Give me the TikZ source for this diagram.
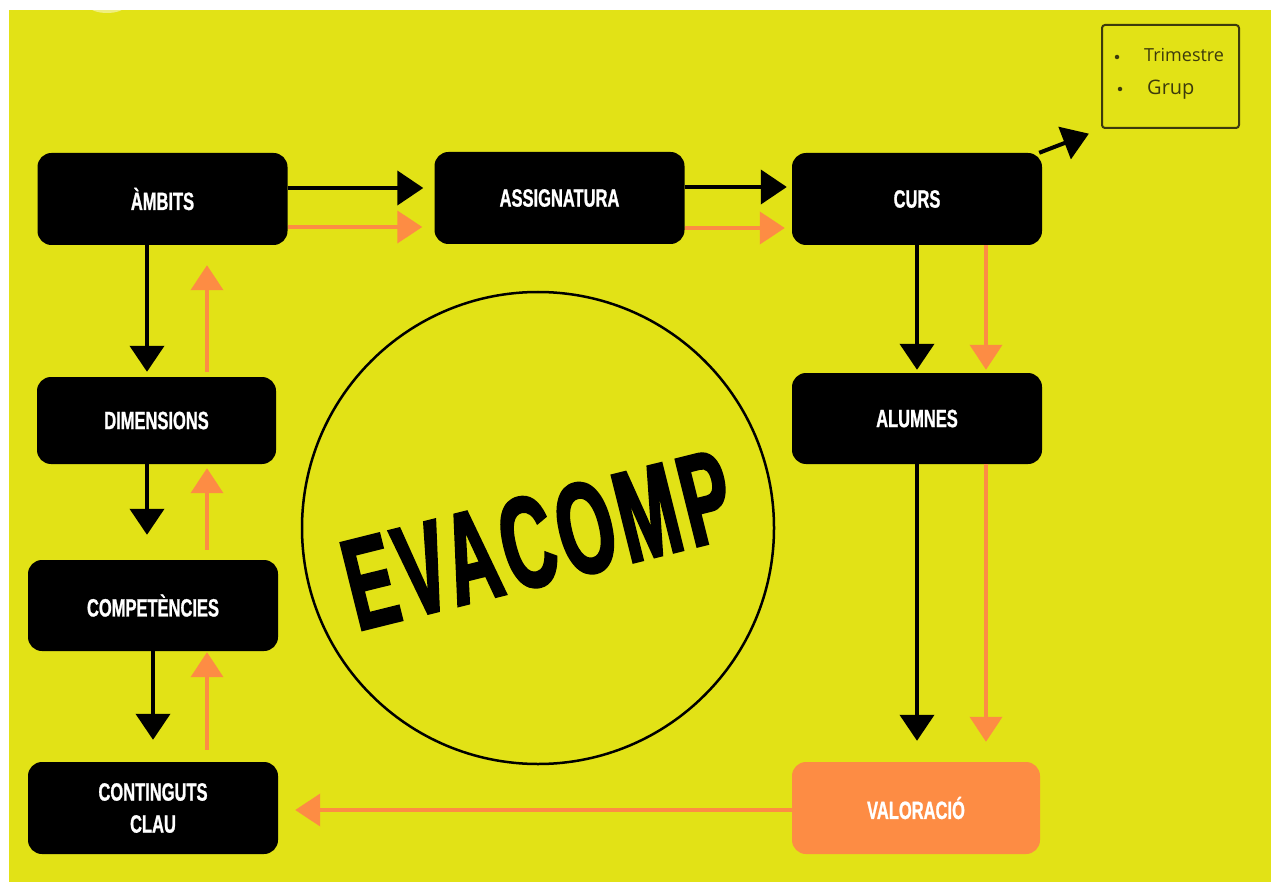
\documentclass[tikz,border=0pt]{standalone}
\usepackage{fontspec}
\usetikzlibrary{arrows.meta}
\newfontfamily\boxfont[FakeStretch=0.66,FakeBold=1]{Liberation Sans}
\newfontfamily\titlefont[FakeStretch=0.56,FakeBold=2,LetterSpace=4]{Liberation Sans}
\newfontfamily\notefont{Open Sans}
\definecolor{bgyellow}{RGB}{226,226,22}
\definecolor{flow}{RGB}{253,140,68}
\definecolor{notecol}{RGB}{60,58,12}
\tikzset{
  stepbox/.style={fill=black, text=white, rounded corners=14pt, inner sep=0pt,
    minimum width=250pt, minimum height=92pt, align=center,
    font=\boxfont\bfseries\fontsize{25}{32}\selectfont},
  endbox/.style={stepbox, fill=flow},
  blk/.style={draw=black, line width=4pt, -{Triangle[length=26pt,width=34pt]}},
  org/.style={draw=flow, line width=4pt, -{Triangle[length=25pt,width=32pt]}},
  dot/.style={circle, fill=notecol, inner sep=0pt, minimum size=4.5pt},
  notetext/.style={text=notecol, inner sep=0pt, anchor=base west}
}
\begin{document}
\begin{tikzpicture}[x=1pt,y=-1pt]
  \useasboundingbox (0,0) rectangle (1271,882);
  % page and background
  \fill[white] (0,0) rectangle (1271,882);
  \fill[bgyellow] (9,10) rectangle (1271,882);
  \fill[white, opacity=0.45] (107,6) ellipse [x radius=18, y radius=7];

  % central seal
  \node[draw=black, line width=2.5pt, circle, minimum size=472pt, inner sep=0pt] (ring) at (538,528) {};
  \node[rotate=14, inner sep=0pt, font=\titlefont\bfseries\fontsize{130}{130}\selectfont] (title) at (538,540) {EVACOMP};

  % boxes
  \node[stepbox] (ambits) at (162.5,199) {ÀMBITS};
  \node[stepbox] (assig) at (559.5,198) {ASSIGNATURA};
  \node[stepbox] (curs) at (917,199) {CURS};
  \node[stepbox, minimum width=239pt, minimum height=87pt] (dims) at (156.5,420.5) {DIMENSIONS};
  \node[stepbox, minimum height=91pt] (alumnes) at (917,418.5) {ALUMNES};
  \node[stepbox, minimum height=91pt] (comps) at (153,605.5) {COMPETÈNCIES};
  \node[stepbox] (cont) at (153,808) {CONTINGUTS\\CLAU};
  \node[endbox, minimum width=248pt] (valor) at (916,808) {VALORACIÓ};

  % note box
  \node[draw=notecol, line width=2pt, rounded corners=3pt, minimum width=137pt, minimum height=103pt, inner sep=0pt] (trim) at (1170.5,76.5) {};
  \node[dot] (d1) at (1117,57) {};
  \node[notetext, font=\notefont\fontsize{18}{20}\selectfont] (t1) at (1144,62) {Trimestre};
  \node[dot] (d2) at (1120,89) {};
  \node[notetext, font=\notefont\fontsize{20}{22}\selectfont] (t2) at (1147,95) {Grup};

  % top row
  \draw[blk] ([yshift=11pt]ambits.east) -- ([yshift=10pt,xshift=-11pt]assig.west);
  \draw[org] ([yshift=-28pt]ambits.east) -- ([yshift=-29pt,xshift=-12pt]assig.west);
  \draw[blk] ([yshift=11pt]assig.east) -- ([yshift=12pt,xshift=-5pt]curs.west);
  \draw[org] ([yshift=-30pt]assig.east) -- ([yshift=-29pt,xshift=-7pt]curs.west);
  \draw[blk, shorten >=13pt] ([xshift=-3pt]curs.north east) -- (trim.south west);

  % left column
  \draw[blk] ([xshift=-15.5pt]ambits.south) -- ([xshift=-9.5pt,yshift=5pt]dims.north);
  \draw[org] ([xshift=50.5pt,yshift=5pt]dims.north) -- ([xshift=44.5pt,yshift=-20pt]ambits.south);
  \draw[blk] ([xshift=-9.5pt]dims.south) -- ([xshift=-6pt,yshift=25pt]comps.north);
  \draw[org] ([xshift=54pt,yshift=10pt]comps.north) -- ([xshift=50.5pt,yshift=-4pt]dims.south);
  \draw[blk] (comps.south) -- ([yshift=22pt]cont.north);
  \draw[org] ([xshift=54pt,yshift=12pt]cont.north) -- ([xshift=54pt,yshift=-1pt]comps.south);

  % right column
  \draw[blk] (curs.south) -- ([yshift=3pt]alumnes.north);
  \draw[org] ([xshift=69pt]curs.south) -- ([xshift=69pt,yshift=3pt]alumnes.north);
  \draw[blk] (alumnes.south) -- ([xshift=1pt,yshift=21pt]valor.north);
  \draw[org] ([xshift=69pt]alumnes.south) -- ([xshift=70pt,yshift=20pt]valor.north);

  % back to the start
  \draw[org] ([yshift=-2pt]valor.west) -- ([xshift=17pt,yshift=-2pt]cont.east);
\end{tikzpicture}
\end{document}
